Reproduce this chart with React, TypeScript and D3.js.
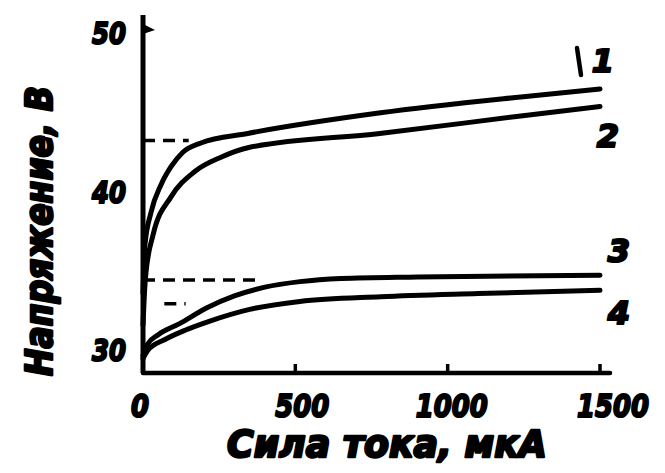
import React, { useEffect, useRef } from 'react';
import * as d3 from 'd3';

// current, μA  /  voltage, V
const current1 = [0, 6, 26, 60, 92, 130, 190, 344, 780, 1240, 1500];
const voltage1 = [33.5, 36.5, 38.6, 40.4, 41.5, 42.4, 43.0, 43.6, 44.9, 45.9, 46.4];
const current2 = [0, 8, 33, 92, 170, 256, 344, 777, 1240, 1500];
const voltage2 = [31.5, 34.5, 37.2, 39.6, 41.2, 42.1, 42.7, 43.6, 44.7, 45.3];
const current3 = [0, 15, 50, 120, 210, 300, 400, 515, 650, 900, 1500];
const voltage3 = [29.6, 30.3, 30.9, 31.6, 32.6, 33.35, 33.9, 34.25, 34.45, 34.55, 34.65];
const current4 = [0, 15, 72, 140, 210, 350, 515, 780, 1100, 1500];
const voltage4 = [29.4, 29.9, 30.6, 31.2, 31.7, 32.5, 33.0, 33.3, 33.5, 33.7];

const curveNames = ['1', '2', '3', '4'];

// dashed guide lines: level (V), from, to (μA)
const dashLevels = [43.15, 34.35, 32.85];
const dashFrom = [0, 0, 70];
const dashTo = [150, 380, 140];

const xTicks = [0, 500, 1000, 1500];
const yTicks = [30, 40, 50];

const App = () => {
  const ref = useRef(null);

  useEffect(() => {
    const svg = d3.select(ref.current);
    svg.selectAll('*').remove();

    const x = d3.scaleLinear().domain([0, 1500]).range([143, 600]);
    const y = d3.scaleLinear().domain([30, 50]).range([349, 32]);
    const axisY = 373;
    const font = 'DejaVu Sans, sans-serif';

    const series = [
      current1.map((c, i) => [c, voltage1[i]]),
      current2.map((c, i) => [c, voltage2[i]]),
      current3.map((c, i) => [c, voltage3[i]]),
      current4.map((c, i) => [c, voltage4[i]]),
    ];

    const line = d3.line()
      .x(d => x(d[0]))
      .y(d => y(d[1]))
      .curve(d3.curveMonotoneX);

    // dashed guides
    dashLevels.forEach((v, i) => {
      svg.append('line')
        .attr('x1', x(dashFrom[i]))
        .attr('x2', x(dashTo[i]))
        .attr('y1', y(v))
        .attr('y2', y(v))
        .attr('stroke', '#000')
        .attr('stroke-width', 3.5)
        .attr('stroke-dasharray', '12 8');
    });

    // curves
    series.forEach(s => {
      svg.append('path')
        .datum(s)
        .attr('fill', 'none')
        .attr('stroke', '#000')
        .attr('stroke-width', 5)
        .attr('stroke-linecap', 'round')
        .attr('d', line);
    });

    // axes
    svg.append('line')
      .attr('x1', x(0)).attr('x2', x(0))
      .attr('y1', axisY).attr('y2', 15)
      .attr('stroke', '#000').attr('stroke-width', 5);
    svg.append('line')
      .attr('x1', x(0)).attr('x2', x(1500) + 10)
      .attr('y1', axisY).attr('y2', axisY)
      .attr('stroke', '#000').attr('stroke-width', 4.5)
      .attr('stroke-linecap', 'round');
    svg.append('path')
      .attr('d', `M${x(0)},${y(50) - 8} L${x(0) + 12},${y(50) - 2} L${x(0)},${y(50) + 2}Z`)
      .attr('fill', '#000');

    xTicks.filter(t => t > 0).forEach(t => {
      svg.append('line')
        .attr('x1', x(t)).attr('x2', x(t))
        .attr('y1', axisY).attr('y2', axisY - 9)
        .attr('stroke', '#000').attr('stroke-width', 3.5);
    });

    const txt = (s, tx, ty, size, len, anchor = 'middle', sw = 2.2) => {
      const t = svg.append('text')
        .attr('x', tx).attr('y', ty)
        .attr('text-anchor', anchor)
        .attr('font-family', font)
        .attr('font-weight', 'bold')
        .attr('font-style', 'italic')
        .attr('font-size', size)
        .attr('fill', '#000')
        .attr('stroke', '#000')
        .attr('stroke-width', sw)
        .attr('stroke-linejoin', 'round')
        .text(s);
      if (len) t.attr('textLength', len).attr('lengthAdjust', 'spacingAndGlyphs');
      return t;
    };

    // y tick labels
    yTicks.forEach(t => {
      txt(String(t), 126, y(t) + 12, 31, 34, 'end');
    });

    // x tick labels
    const xLabelShift = [-3, 7, 4, 13];
    xTicks.forEach((t, i) => {
      const s = String(t);
      txt(s, x(t) + xLabelShift[i], 417, 32, s.length * 18, 'middle');
    });

    // curve labels
    const labelPos = [[603, 72], [608, 147], [619, 262], [619, 324]];
    curveNames.forEach((n, i) => {
      txt(n, labelPos[i][0], labelPos[i][1], 32, null, 'middle');
    });
    svg.append('line')
      .attr('x1', 577).attr('y1', 48)
      .attr('x2', 581).attr('y2', 75)
      .attr('stroke', '#000').attr('stroke-width', 4.5)
      .attr('stroke-linecap', 'round');

    // axis titles
    txt('Сила тока, мкА', 387, 457, 38, 320, 'middle', 2.6);
    txt('Напряжение, В', 0, 0, 38, 290, 'middle', 2.6)
      .attr('transform', 'translate(52,231) rotate(-90)');
  }, []);

  return (
    <svg
      ref={ref}
      width="665"
      height="473"
      style={{ position: 'absolute', left: 0, top: 0, background: '#fff' }}
    ></svg>
  );
};

export default App;
